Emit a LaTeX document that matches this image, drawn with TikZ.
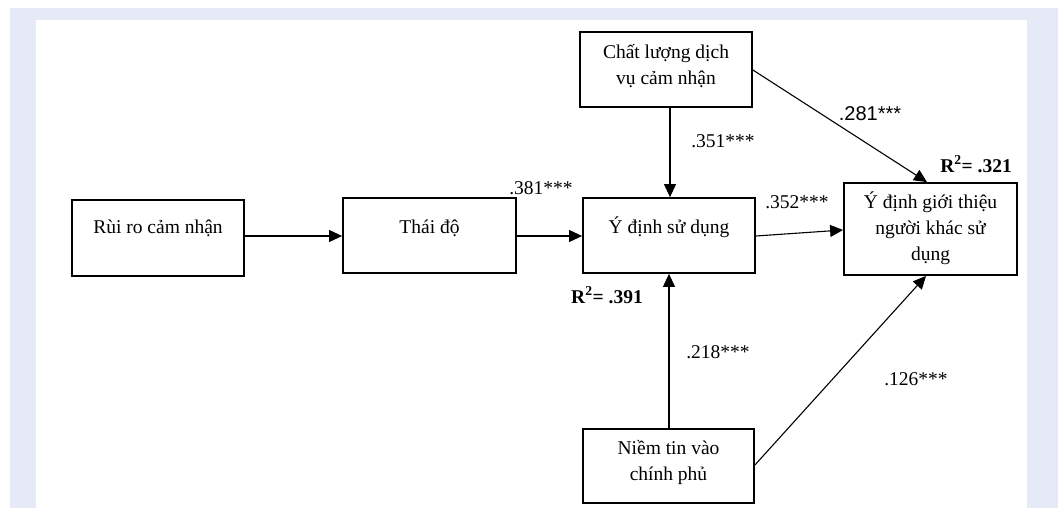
\documentclass[tikz,border=0pt]{standalone}
\usepackage{fontspec}
\setmainfont{Liberation Serif}
\newfontfamily\arialfont{Liberation Sans}
\usetikzlibrary{arrows.meta,calc}
\definecolor{frame}{RGB}{230,234,246}
\tikzset{
  box/.style={draw=black, line width=1.8pt, rectangle, inner sep=0pt, fill=white},
  txt/.style={font=\fontsize{19.5}{26}\selectfont, align=center, inner sep=0pt},
  coef/.style={font=\fontsize{19.5}{24}\selectfont, inner sep=0pt},
  rsq/.style={font=\fontsize{19.5}{24}\selectfont\bfseries, inner sep=0pt},
  path/.style={draw=black, line width=1.1pt, -{Triangle[length=13pt,width=12pt]}},
  link/.style={draw=black, line width=1.1pt}
}
\begin{document}
\begin{tikzpicture}[x=1pt,y=-1pt]
\useasboundingbox (0,0) rectangle (1058,508);
% page frame
\fill[white] (0,0) rectangle (1058,508);
\fill[frame] (10,8) rectangle (1058,508);
\fill[white] (36,20) rectangle (1027,508);

% construct boxes
\node[box, minimum width=172pt, minimum height=76pt] (rr) at (158,238) {};
\node[box, minimum width=173pt, minimum height=75pt] (td) at (429.5,235.5) {};
\node[box, minimum width=172pt, minimum height=75pt] (yd) at (669,235.5) {};
\node[box, minimum width=173pt, minimum height=92pt] (gt) at (930.5,229) {};
\node[box, minimum width=172pt, minimum height=75pt] (cl) at (666,69.5) {};
\node[box, minimum width=171pt, minimum height=74pt] (nt) at (668.5,466) {};

% box texts
\node[txt] (rrt) at (158,228) {Rùi ro cảm nhận};
\node[txt] (tdt) at (429.5,228) {Thái độ};
\node[txt] (ydt) at (669,227) {Ý định sử dụng};
\node[txt] (gtt) at (930.5,228.5) {Ý định giới thiệu\\người khác sử\\dụng};
\node[txt] (clt) at (666,66.5) {Chất lượng dịch\\vụ cảm nhận};
\node[txt] (ntt) at (668.5,463) {Niềm tin vào\\chính phủ};

% path end points on the box borders
\coordinate (rrout) at (rr.east |- 0,236);
\coordinate (tdin) at (td.west |- 0,236);
\coordinate (tdout) at (td.east |- 0,236);
\coordinate (ydin) at (yd.west |- 0,236);
\coordinate (ydout) at (yd.east |- 0,236);
\coordinate (gtin) at (gt.west |- 0,230);
\coordinate (ydtop) at (670,0 |- yd.north);
\coordinate (cldown) at (670,0 |- cl.south);
\coordinate (ydbot) at (669,0 |- yd.south);
\coordinate (ntup) at (669,0 |- nt.north);
\coordinate (clout) at (cl.east |- 0,70);
\coordinate (gttop) at (927,0 |- gt.north);
\coordinate (ntout) at (nt.east |- 0,465);
\coordinate (gtbot) at (926,0 |- gt.south);

\draw[path] (rrout) -- (tdin);
\draw[path] (tdout) -- (ydin);
\draw[path] (ydout) -- (gtin);
\draw[path] (cldown) -- (ydtop);
\draw[path] (ntup) -- (ydbot);
\draw[path] (clout) -- (gttop);
\draw[path] (ntout) -- (gtbot);

% path coefficients
\node[coef] (c381) at (541,188) {.381***};
\node[coef] (c351) at (723,141) {.351***};
\node[coef] (c352) at (797,202) {.352***};
\node[coef, font=\arialfont\fontsize{20}{24}\selectfont] (c281) at (870,114) {.281***};
\node[coef] (c218) at (718,352) {.218***};
\node[coef] (c126) at (916,379) {.126***};

% explained variance
\node[rsq] (r391) at (607,295) {R\textsuperscript{2}= .391};
\node[rsq] (r321) at (976,164) {R\textsuperscript{2}= .321};
\end{tikzpicture}
\end{document}
